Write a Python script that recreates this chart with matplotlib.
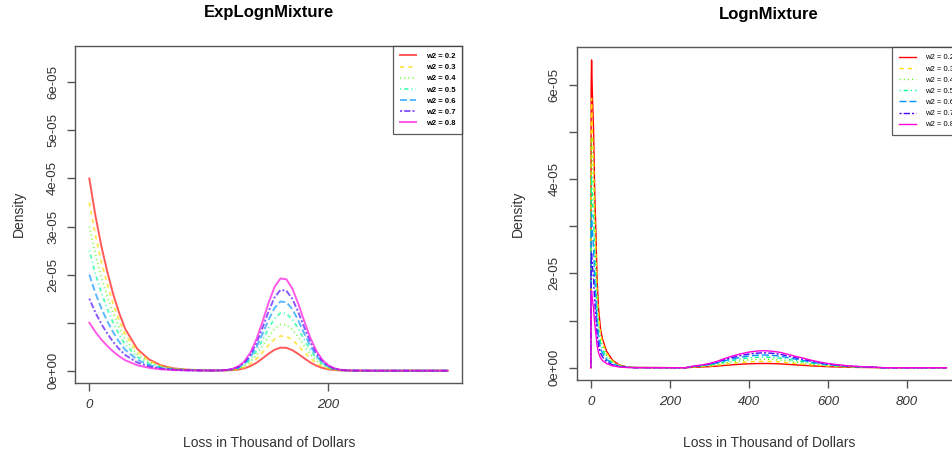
"""Two mixture density panels: ExpLognMixture and LognMixture."""

import matplotlib

matplotlib.use("Agg")
import matplotlib.pyplot as plt
import numpy as np

plt.rcParams["font.family"] = ["Liberation Sans", "DejaVu Sans"]
plt.rcParams["lines.scale_dashes"] = False

# ---- data (density values in units of 1e-5) ----
weights = ["0.2", "0.3", "0.4", "0.5", "0.6", "0.7", "0.8"]
colors = ["#FF0000", "#FFDB00", "#49FF00", "#00FF92", "#0092FF", "#4900FF", "#FF00DB"]
linestyles = ["-", (0, (3, 3)), (0, (0.8, 2.2)), (0, (0.8, 2.2, 3, 2.2)), (0, (5, 2.2)),
              (0, (1.5, 1.5, 4.5, 1.5)), "-"]

left_x = [0, 5, 10, 15, 20, 25, 30, 40, 50, 60, 70, 80, 90, 100,
          110, 115, 120, 125, 130, 135, 140, 145, 150, 155, 160, 165, 170,
          175, 180, 185, 190, 195, 200, 205, 210, 215, 220,
          240, 260, 280, 300]

left_vals = [
    [4.00, 3.24, 2.60, 2.064, 1.592, 1.20, 0.872, 0.457, 0.234, 0.112, 0.050, 0.025, 0.012, 0.006,
     0.004, 0.006, 0.012, 0.023, 0.050, 0.096, 0.165, 0.255, 0.351, 0.434, 0.480, 0.476, 0.427,
     0.348, 0.257, 0.172, 0.105, 0.058, 0.029, 0.013, 0.005, 0.002, 0.001,
     0, 0, 0, 0],
    [3.50, 2.835, 2.275, 1.806, 1.393, 1.05, 0.763, 0.400, 0.205, 0.098, 0.044, 0.022, 0.011, 0.006,
     0.005, 0.007, 0.016, 0.035, 0.075, 0.144, 0.248, 0.382, 0.527, 0.651, 0.719, 0.714, 0.640,
     0.522, 0.386, 0.258, 0.157, 0.086, 0.043, 0.020, 0.008, 0.003, 0.001,
     0, 0, 0, 0],
    [3.00, 2.43, 1.95, 1.548, 1.194, 0.90, 0.654, 0.343, 0.176, 0.084, 0.038, 0.019, 0.009, 0.005,
     0.004, 0.009, 0.020, 0.046, 0.100, 0.192, 0.330, 0.509, 0.703, 0.868, 0.959, 0.952, 0.854,
     0.696, 0.514, 0.345, 0.209, 0.115, 0.057, 0.026, 0.011, 0.004, 0.001,
     0, 0, 0, 0],
    [2.50, 2.025, 1.625, 1.29, 0.995, 0.75, 0.545, 0.286, 0.147, 0.070, 0.032, 0.016, 0.008, 0.004,
     0.005, 0.011, 0.025, 0.058, 0.125, 0.240, 0.413, 0.636, 0.878, 1.085, 1.199, 1.189, 1.067,
     0.870, 0.643, 0.431, 0.261, 0.144, 0.071, 0.033, 0.013, 0.005, 0.002,
     0, 0, 0, 0],
    [2.00, 1.62, 1.30, 1.032, 0.796, 0.60, 0.436, 0.228, 0.117, 0.056, 0.025, 0.012, 0.006, 0.003,
     0.006, 0.012, 0.030, 0.070, 0.150, 0.287, 0.495, 0.764, 1.054, 1.302, 1.439, 1.427, 1.281,
     1.044, 0.771, 0.517, 0.314, 0.173, 0.086, 0.039, 0.016, 0.006, 0.002,
     0, 0, 0, 0],
    [1.50, 1.215, 0.975, 0.774, 0.597, 0.45, 0.327, 0.171, 0.088, 0.042, 0.019, 0.009, 0.005, 0.002,
     0.005, 0.014, 0.035, 0.081, 0.174, 0.335, 0.578, 0.891, 1.230, 1.520, 1.679, 1.665, 1.494,
     1.218, 0.900, 0.603, 0.366, 0.202, 0.100, 0.046, 0.019, 0.007, 0.002,
     0, 0, 0, 0],
    [1.00, 0.81, 0.65, 0.516, 0.398, 0.30, 0.218, 0.114, 0.059, 0.028, 0.013, 0.006, 0.003, 0.002,
     0.006, 0.015, 0.039, 0.093, 0.199, 0.383, 0.660, 1.018, 1.406, 1.737, 1.919, 1.903, 1.708,
     1.392, 1.028, 0.689, 0.418, 0.230, 0.114, 0.052, 0.021, 0.008, 0.003,
     0, 0, 0, 0],
]

right_x = [0, 1, 2, 4, 7, 10, 13, 16, 20, 25, 30, 40, 55, 72, 90, 110,
           240, 260, 280, 300, 320, 340, 360, 380, 400, 420, 440, 460, 480,
           500, 520, 540, 560, 580, 600, 620, 640, 660, 680, 700, 720, 740,
           900]

right_vals = [
    [0, 6.00, 6.52, 5.80, 5.05, 3.70, 2.85, 1.85, 1.22, 0.80, 0.60, 0.35, 0.16, 0.06, 0.02, 0.005,
     0, .009, .014, .023, .034, .050, .063, .074, .083, .088, .090, .087, .081,
     .070, .059, .050, .039, .030, .023, .017, .013, .009, .006, .005, .003, 0, 0],
    [0, 5.25, 5.705, 5.075, 4.419, 3.238, 2.494, 1.619, 1.068, 0.70, 0.525, 0.306, 0.14, 0.053, 0.018, 0.004,
     0, .014, .022, .034, .051, .074, .095, .111, .124, .132, .135, .131, .122,
     .105, .089, .074, .058, .045, .034, .026, .019, .014, .009, .007, .004, 0, 0],
    [0, 4.50, 4.89, 4.35, 3.788, 2.775, 2.138, 1.388, 0.915, 0.60, 0.45, 0.263, 0.12, 0.045, 0.015, 0.004,
     0, .018, .029, .045, .068, .099, .126, .148, .166, .176, .180, .175, .162,
     .140, .119, .099, .077, .059, .045, .034, .025, .018, .013, .009, .005, 0, 0],
    [0, 3.75, 4.075, 3.625, 3.156, 2.313, 1.781, 1.156, 0.763, 0.50, 0.375, 0.219, 0.10, 0.038, 0.013, 0.003,
     0, .023, .036, .056, .086, .124, .158, .185, .207, .221, .225, .218, .203,
     .176, .149, .124, .097, .074, .056, .043, .032, .023, .016, .011, .007, 0, 0],
    [0, 3.00, 3.26, 2.90, 2.525, 1.85, 1.425, 0.925, 0.61, 0.40, 0.30, 0.175, 0.08, 0.03, 0.01, 0.003,
     0, .027, .043, .068, .103, .149, .189, .221, .248, .265, .270, .262, .243,
     .211, .178, .149, .116, .089, .068, .051, .038, .027, .019, .014, .008, 0, 0],
    [0, 2.25, 2.445, 2.175, 1.894, 1.388, 1.069, 0.694, 0.458, 0.30, 0.225, 0.131, 0.06, 0.023, 0.008, 0.002,
     0, .032, .050, .079, .120, .173, .221, .258, .290, .309, .315, .306, .284,
     .246, .208, .173, .135, .104, .079, .060, .044, .032, .022, .016, .009, 0, 0],
    [0, 1.50, 1.63, 1.45, 1.263, 0.925, 0.713, 0.463, 0.305, 0.20, 0.15, 0.088, 0.04, 0.015, 0.005, 0.001,
     0, .036, .058, .090, .137, .198, .252, .295, .331, .353, .360, .349, .324,
     .281, .238, .198, .155, .119, .090, .068, .050, .036, .025, .018, .011, 0, 0],
]

left_xticks = [0, 200]
right_xticks = [0, 200, 400, 600, 800]
yticks = [0, 1e-5, 2e-5, 3e-5, 4e-5, 5e-5, 6e-5]
left_ylabels = ["0e+00", "", "2e-05", "3e-05", "4e-05", "5e-05", "6e-05"]
right_ylabels = ["0e+00", "", "2e-05", "", "4e-05", "", "6e-05"]

TEXT = "#333333"


def style_axes(ax, xticks, ylabels):
    for sp in ax.spines.values():
        sp.set_color("#555555")
        sp.set_linewidth(1.0)
    ax.set_xticks(xticks)
    ax.set_xticklabels([str(t) for t in xticks], fontsize=9.5, style="italic", color=TEXT)
    ax.set_yticks(yticks)
    ax.set_yticklabels(ylabels, fontsize=9.5, rotation=90, va="center", color=TEXT)
    ax.tick_params(direction="out", length=5.5, width=1.0, color="#555555", pad=6)


def draw_panel(ax, x, vals, lw, alpha, bold):
    for i, w in enumerate(weights):
        ax.plot(x, np.array(vals[i]) * 1e-5, color=colors[i], linestyle=linestyles[i],
                linewidth=lw, alpha=alpha, label=f"w2 = {w}")
    leg = ax.legend(loc="upper right", borderaxespad=0, fancybox=False,
                    handlelength=2.2, handletextpad=1.2, labelspacing=0.5,
                    borderpad=0.9, prop={"size": 5.5, "weight": "bold" if bold else "normal"})
    leg.get_frame().set_edgecolor("#333333")
    leg.get_frame().set_linewidth(0.9)


fig = plt.figure(figsize=(9.53, 4.54), dpi=100)

ax1 = fig.add_axes([0.0787, 0.156, 0.406, 0.743])
draw_panel(ax1, left_x, left_vals, lw=1.4, alpha=0.65, bold=True)
ax1.set_xlim(-12, 312)
ax1.set_ylim(-0.26e-5, 6.76e-5)
style_axes(ax1, left_xticks, left_ylabels)

ax2 = fig.add_axes([0.605, 0.163, 0.403, 0.733])
draw_panel(ax2, right_x, right_vals, lw=1.0, alpha=1.0, bold=False)
ax2.set_xlim(-36, 936)
ax2.set_ylim(-0.26e-5, 6.79e-5)
style_axes(ax2, right_xticks, right_ylabels)

fig.text(269 / 953, 1 - 13 / 454, "ExpLognMixture", ha="center", va="center",
         fontsize=12, fontweight="bold")
fig.text(769 / 953, 1 - 15 / 454, "LognMixture", ha="center", va="center",
         fontsize=12, fontweight="bold")
for cx in (269, 769):
    fig.text(cx / 953, 1 - 443 / 454, "Loss in Thousand of Dollars", ha="center",
             va="center", fontsize=10, color=TEXT)
fig.text(19 / 953, 1 - 214 / 454, "Density", rotation=90, ha="center", va="center",
         fontsize=10, color=TEXT)
fig.text(518 / 953, 1 - 214 / 454, "Density", rotation=90, ha="center", va="center",
         fontsize=10, color=TEXT)

fig.savefig("out.png", dpi=100)
